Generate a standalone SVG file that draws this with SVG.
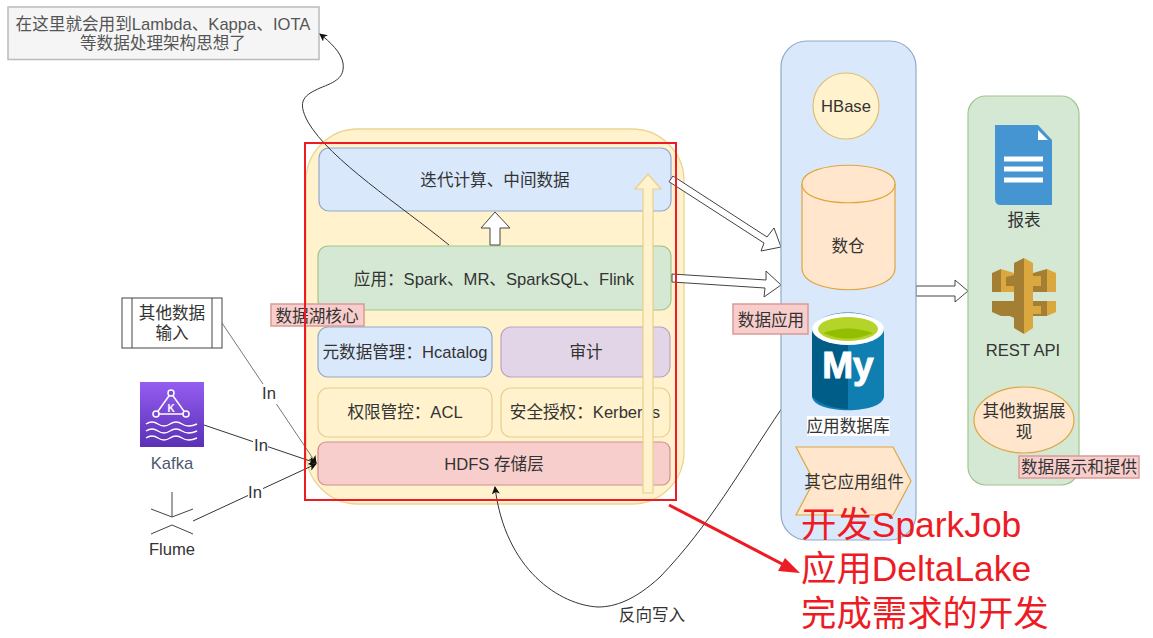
<svg xmlns="http://www.w3.org/2000/svg" width="1153" height="638" viewBox="0 0 1153 638">
<style>
text{font-family:"Liberation Sans","Noto Sans CJK SC",sans-serif;font-size:16.6px;fill:#333;text-anchor:middle}
.conn{fill:none;stroke:#333;stroke-width:1}
.hollow{fill:#fff;stroke:#444;stroke-width:1}
.tag{fill:#f8cecc;stroke:#d99a97;stroke-width:1.5}
.y{fill:#fff2cc;stroke:#e8cf8e;stroke-width:1.2}
.b{fill:#dae8fc;stroke:#8fa9cc;stroke-width:1.2}
.g{fill:#d5e8d4;stroke:#9fc78c;stroke-width:1.2}
.r{fill:#f8cecc;stroke:#cf8f8c;stroke-width:1.2}
.red{font-size:35.4px;fill:#ed1c24;text-anchor:start}
.dk{fill:#a47f33}
.lt{fill:#dba73f}
</style>
<defs><marker id="a" markerWidth="9" markerHeight="9" refX="7" refY="4" orient="auto"><path d="M0 0L8 4L0 8L2 4Z" fill="#111"/></marker>
<linearGradient id="kg" x1="0" y1="0" x2="0" y2="1"><stop offset="0" stop-color="#945df2"/><stop offset="1" stop-color="#5a30b5"/></linearGradient></defs>

<g id="note"><rect x="8" y="7" width="311" height="52.500" fill="#f5f5f5" stroke="#bbb" stroke-width="1.500"/><text x="163" y="30" style="fill:#555">在这里就会用到Lambda、Kappa、IOTA</text><text x="163" y="49" style="fill:#555">等数据处理架构思想了</text></g>

<g id="lake-bg"><rect x="306" y="129" width="378" height="375" rx="52" fill="#fff2cc" stroke="#edd48f" stroke-width="1.300"/></g>
<g id="iter"><rect x="319" y="148" width="352" height="63" rx="10" class="b"/><text x="495" y="186">迭代计算、中间数据</text></g>
<g id="app"><rect x="318" y="246" width="353" height="64" rx="10" class="g"/><text x="494" y="285">应用：Spark、MR、SparkSQL、Flink</text></g>
<g id="meta"><rect x="318" y="327" width="174" height="50" rx="10" class="b"/><text x="405" y="358">元数据管理：Hcatalog</text></g>
<g id="audit"><rect x="501" y="327" width="169" height="50" rx="10" fill="#e1d5e7" stroke="#b9a4c6" stroke-width="1.200"/><text x="586" y="358">审计</text></g>
<g id="acl"><rect x="318" y="388" width="174" height="49" rx="10" class="y"/><text x="405" y="418">权限管控：ACL</text></g>
<g id="kerberos"><rect x="501" y="388" width="169" height="49" rx="10" class="y"/><text x="585" y="418">安全授权：Kerberos</text></g>
<g id="hdfs"><rect x="318" y="442" width="352" height="43" rx="8" class="r"/><text x="494" y="470">HDFS 存储层</text></g>

<g id="connectors">
<path class="y" d="M643 493V189H635L648 174L661 189H653V493Z" stroke-width="1.300"/>
<path class="hollow" d="M490 245V228H481L495 212L510 228H500V245Z"/>
<path class="conn" d="M449 245C400 205 330 160 308 122C296 100 305 95 320 88C335 82 345 78 343 63C341 52 330 42 320 34" marker-end="url(#a)"/>
<path class="hollow" d="M669 181.700L673 176L767 237L774 228L781 247L761 251L764 243Z"/>
<path class="hollow" d="M672 274L766 280V271L781 285L764 297L765 288L672 282Z"/>
<path class="hollow" d="M916 286H955V280L968 291L955 302V296H916Z"/>
<path class="conn" d="M782 408C740 470 710 525 660 577C635 600 615 607 598 607C560 605 505 570 495 487" marker-end="url(#a)"/>
<path class="conn" style="stroke:#777" d="M222 323L316 463" marker-end="url(#a)"/>
<path class="conn" d="M204 425L316 463" marker-end="url(#a)"/>
<path class="conn" d="M193 521L316 464" marker-end="url(#a)"/>
<rect x="262" y="384" width="15" height="20" fill="#fff"/><text x="269" y="399">In</text>
<rect x="253" y="436" width="15" height="18" fill="#fff"/><text x="261" y="451">In</text>
<rect x="248" y="484" width="15" height="18" fill="#fff"/><text x="255" y="498">In</text>
<text x="652" y="621">反向写入</text>
</g>

<g id="other-input"><rect x="122" y="298" width="100" height="50" fill="#fff" stroke="#444"/><path d="M132 298V348M212 298V348" stroke="#444" fill="none"/><text x="172" y="319">其他数据</text><text x="172" y="339">输入</text></g>
<g id="kafka"><rect x="140" y="382" width="64" height="65" fill="url(#kg)"/><path d="M171 393L156 414H186Z" fill="none" stroke="#fff" stroke-width="1.500"/><circle cx="171" cy="393" r="3" fill="#7a48d8" stroke="#fff" stroke-width="1.500"/><circle cx="156" cy="414" r="3" fill="#7a48d8" stroke="#fff" stroke-width="1.500"/><circle cx="186" cy="414" r="3" fill="#7a48d8" stroke="#fff" stroke-width="1.500"/><path d="M146 424q6 -4 12 0t12 0t12 0t15 0M146 431q6 -4 12 0t12 0t12 0t15 0M146 438q6 -4 12 0t12 0t12 0t15 0" fill="none" stroke="#fff" stroke-width="1.500"/><text x="171" y="412" style="font-size:10px;fill:#fff;font-weight:bold">K</text><text x="172" y="469" style="fill:#4a5a70">Kafka</text></g>
<g id="flume"><path d="M172 492V517M151 509L172 517L193 509M151 534L172 525L193 534" fill="none" stroke="#444"/><text x="172" y="555">Flume</text></g>

<g id="tag-lake"><rect x="271" y="304" width="93" height="22" class="tag"/><text x="317" y="322">数据湖核心</text></g>

<g id="apps-bg"><rect x="781" y="41" width="135" height="499" rx="26" fill="#dae8fc" stroke="#8fa9cc" stroke-width="1.200"/></g>
<g id="hbase"><circle cx="846" cy="106" r="33" fill="#fff2cc" stroke="#e0c070" stroke-width="1.200"/><text x="846" y="112">HBase</text></g>
<g id="dw"><path d="M802 184C802 159 895 159 895 184V268C895 297 802 297 802 268Z" fill="#ffe6cc" stroke="#dfa640" stroke-width="1.200"/><path d="M802 184C802 209 895 209 895 184" fill="none" stroke="#dfa640" stroke-width="1.200"/><text x="848" y="252">数仓</text></g>
<g id="mysql"><path d="M812 332C812 306 884 306 884 332V396C884 415 812 415 812 396Z" fill="#0f7fb2"/><path d="M812 332L848 342V409Q822 408 812 396Z" fill="#005d87"/><ellipse cx="848" cy="329" rx="36" ry="16" fill="#fff"/><ellipse cx="848" cy="329" rx="30" ry="12" fill="#b4d42a"/><path d="M823 333Q848 324 873 333Q848 344 823 333Z" fill="#93bd00"/><text x="848" y="378" style="font-size:37px;font-weight:bold;fill:#fff;stroke:#fff;stroke-width:1">My</text><rect x="807" y="416" width="83" height="20" fill="#fff"/><text x="848" y="432">应用数据库</text></g>
<g id="other-apps"><path d="M796 447H893L911 481L893 515H796L814 481Z" fill="#ffe6cc" stroke="#dfa640" stroke-width="1.200"/><text x="854" y="488">其它应用组件</text></g>
<g id="tag-apps"><rect x="733" y="304" width="75" height="30" class="tag"/><text x="771" y="326">数据应用</text></g>

<g id="present-bg"><rect x="968" y="96" width="111" height="389" rx="18" fill="#d5e8d4" stroke="#9fc78c" stroke-width="1.200"/></g>
<g id="report"><path d="M995 125H1038L1052 140V205H1001Q995 205 995 199Z" fill="#4495d1"/><path d="M1038 130V140H1048Z" fill="#fff"/><path d="M1004 159H1043M1004 169H1043M1004 180H1043" stroke="#fff" stroke-width="5"/><text x="1024" y="226">报表</text></g>
<g id="rest">
<path class="dk" d="M992 273L1001 269V292H992ZM992 301H1014V316L1001 316L992 312Z"/>
<path class="lt" d="M1001 269L1014 273V292H1001ZM1047 269L1056 273V292H1047ZM1047 301H1056V312L1047 316Z"/>
<path class="dk" d="M1033 273L1047 269V292H1033ZM1033 301H1047V316H1033Z"/>
<path class="lt" d="M1033 276H1041V286H1033ZM1033 306H1041V314H1033Z"/>
<path class="dk" d="M1006 277L1014 275V286H1006ZM1006 306L1014 304V318L1006 314Z"/>
<path class="dk" d="M1014 263L1024 258V334L1014 328Z"/>
<path class="lt" d="M1024 258L1033 263V328L1024 334Z"/>
<text x="1023" y="356">REST API</text></g>
<g id="other-show"><ellipse cx="1024" cy="420" rx="50" ry="33" fill="#ffe6cc" stroke="#dfa640" stroke-width="1.200"/><text x="1024" y="417">其他数据展</text><text x="1024" y="438">现</text></g>
<g id="tag-present"><rect x="1019" y="456" width="120" height="22" class="tag"/><text x="1079" y="473">数据展示和提供</text></g>

<g id="highlight"><rect x="305" y="143" width="371" height="357" fill="none" stroke="#ed1c24" stroke-width="2"/><path d="M669 505L788 567" fill="none" stroke="#ed1c24" stroke-width="3"/><path d="M800 573L778 571L785 558Z" fill="#ed1c24"/><text x="801" y="537" class="red">开发SparkJob</text><text x="801" y="581" class="red">应用DeltaLake</text><text x="801" y="626" class="red">完成需求的开发</text></g>
</svg>
